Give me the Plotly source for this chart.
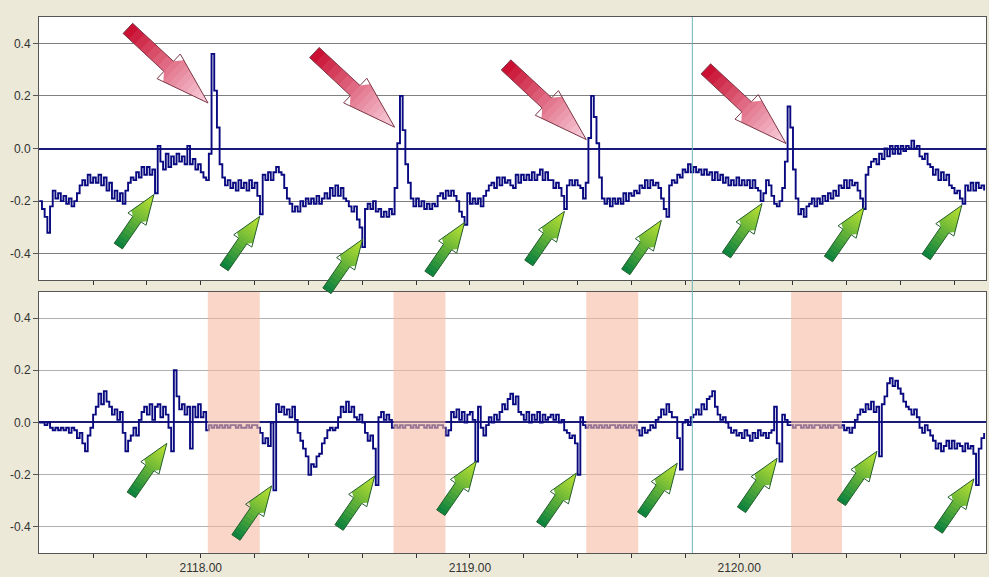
import plotly.graph_objects as go

# ---------------- data ----------------
X_START = 2117.40
X_STEP = 0.01

top_signal = [
    -0.20, -0.23, -0.26, -0.32, -0.22, -0.16, -0.19, -0.17, -0.20, -0.18,
    -0.21, -0.19, -0.22, -0.20, -0.17, -0.14, -0.12, -0.14, -0.10, -0.13,
    -0.11, -0.13, -0.10, -0.14, -0.11, -0.16, -0.13, -0.19, -0.16, -0.20,
    -0.17, -0.21, -0.16, -0.13, -0.11, -0.12, -0.09, -0.11, -0.07, -0.10,
    -0.07, -0.10, -0.08, -0.17, 0.01, -0.05, -0.08, -0.02, -0.07, -0.03,
    -0.06, -0.02, -0.05, -0.03, -0.06, 0.01, -0.06, -0.04, -0.08, -0.06,
    -0.09, -0.11, -0.12, -0.02, 0.36, 0.22, 0.08, -0.06, -0.11, -0.14,
    -0.12, -0.15, -0.13, -0.16, -0.12, -0.15, -0.13, -0.16, -0.12, -0.15,
    -0.13, -0.18, -0.25, -0.10, -0.12, -0.09, -0.12, -0.09, -0.07, -0.09,
    -0.10, -0.15, -0.19, -0.21, -0.24, -0.22, -0.24, -0.20, -0.22, -0.19,
    -0.21, -0.19, -0.21, -0.18, -0.21, -0.19, -0.17, -0.19, -0.15, -0.18,
    -0.14, -0.18, -0.15, -0.19, -0.20, -0.22, -0.24, -0.22, -0.27, -0.30,
    -0.375, -0.23, -0.21, -0.23, -0.20, -0.24, -0.23, -0.26, -0.24, -0.26,
    -0.23, -0.25, -0.15, 0.02, 0.20, 0.07, -0.06, -0.13, -0.19, -0.22,
    -0.19, -0.22, -0.20, -0.23, -0.21, -0.23, -0.21, -0.22, -0.18, -0.17,
    -0.19, -0.16, -0.18, -0.16, -0.18, -0.20, -0.24, -0.26, -0.29, -0.17,
    -0.21, -0.19, -0.21, -0.19, -0.22, -0.18, -0.16, -0.14, -0.13, -0.15,
    -0.11, -0.14, -0.11, -0.13, -0.12, -0.14, -0.15, -0.10, -0.13, -0.10,
    -0.12, -0.10, -0.12, -0.09, -0.12, -0.10, -0.08, -0.12, -0.09, -0.12,
    -0.12, -0.15, -0.13, -0.15, -0.18, -0.23, -0.14, -0.12, -0.14, -0.12,
    -0.14, -0.15, -0.19, -0.13, 0.04, 0.20, 0.12, 0.02, -0.11, -0.19,
    -0.21, -0.19, -0.22, -0.19, -0.21, -0.19, -0.21, -0.17, -0.20, -0.17,
    -0.18, -0.16, -0.17, -0.14, -0.15, -0.12, -0.15, -0.12, -0.14, -0.13,
    -0.15, -0.19, -0.23, -0.26, -0.14, -0.12, -0.13, -0.10, -0.11, -0.08,
    -0.09, -0.06, -0.09, -0.07, -0.09, -0.08, -0.10, -0.08, -0.10, -0.09,
    -0.12, -0.09, -0.12, -0.10, -0.13, -0.11, -0.14, -0.12, -0.14, -0.11,
    -0.14, -0.12, -0.14, -0.12, -0.15, -0.12, -0.15, -0.16, -0.20, -0.17,
    -0.12, -0.14, -0.18, -0.21, -0.22, -0.20, -0.15, -0.05, 0.16, 0.08,
    -0.08, -0.19, -0.25, -0.23, -0.26, -0.22, -0.21, -0.19, -0.22, -0.19,
    -0.21, -0.18, -0.20, -0.17, -0.19, -0.16, -0.18, -0.14, -0.15, -0.12,
    -0.15, -0.12, -0.14, -0.13, -0.16, -0.19, -0.23, -0.10, -0.07, -0.05,
    -0.04, -0.06, -0.02, -0.04, 0.00, -0.03, 0.01, -0.02, 0.01, -0.02,
    0.01, -0.01, 0.01, 0.00, 0.03, 0.00, 0.01, -0.03, -0.04, -0.02,
    -0.06, -0.07, -0.10, -0.08, -0.12, -0.09, -0.12, -0.10, -0.14, -0.15,
    -0.17, -0.16, -0.19, -0.21, -0.14, -0.16, -0.13, -0.16, -0.13, -0.15,
    -0.14, -0.16,
]

bottom_signal = [
    0.00, 0.00, -0.01, 0.00, -0.02, -0.03, -0.02, -0.03, -0.02, -0.03,
    -0.02, -0.04, -0.02, -0.03, -0.06, -0.04, -0.08, -0.11, -0.05, -0.02,
    0.03, 0.06, 0.11, 0.07, 0.12, 0.08, 0.06, 0.03, 0.05, 0.01,
    0.04, -0.04, -0.11, -0.07, -0.05, -0.02, -0.05, 0.01, 0.04, 0.06,
    0.03, 0.07, 0.01, 0.06, 0.07, 0.02, 0.06, 0.03, -0.02, -0.11,
    0.20, 0.10, 0.05, 0.07, 0.03, 0.06, -0.10, 0.06, 0.02, 0.07,
    0.02, 0.04, -0.03, -0.01, -0.02, -0.01, -0.02, -0.01, -0.02, -0.01,
    -0.02, -0.01, -0.01, -0.02, -0.01, -0.02, -0.02, -0.01, -0.02, -0.01,
    -0.01, -0.02, -0.04, -0.08, -0.06, -0.09, 0.00, -0.26, 0.07, 0.04,
    0.06, 0.03, 0.05, 0.02, 0.06, 0.01, -0.04, -0.07, -0.10, -0.13,
    -0.20, -0.16, -0.17, -0.13, -0.12, -0.08, -0.06, -0.03, -0.02, -0.03,
    -0.02, 0.02, 0.06, 0.04, 0.08, 0.04, 0.06, 0.02, 0.01, 0.03,
    0.00, -0.04, -0.07, -0.05, -0.10, -0.24, 0.02, 0.04, 0.01, 0.03,
    0.01, -0.02, -0.01, -0.02, -0.01, -0.02, -0.01, -0.01, -0.02, -0.01,
    -0.02, -0.01, -0.01, -0.02, -0.01, -0.02, -0.01, -0.02, -0.01, -0.01,
    -0.02, -0.05, -0.03, 0.04, 0.02, 0.05, 0.01, 0.04, 0.00, 0.03,
    0.04, 0.01, -0.15, 0.06, -0.02, -0.05, -0.01, 0.02, 0.00, 0.03,
    0.01, 0.04, 0.07, 0.05, 0.09, 0.11, 0.07, 0.10, 0.04, 0.03,
    0.01, 0.04, 0.00, 0.03, 0.01, 0.04, 0.00, 0.03, 0.01, 0.02,
    0.03, 0.01, 0.03, 0.00, 0.01, -0.03, -0.04, -0.06, -0.05, -0.08,
    -0.20, 0.02, -0.01, -0.02, -0.01, -0.02, -0.01, -0.02, -0.01, -0.02,
    -0.01, -0.02, -0.01, -0.01, -0.02, -0.01, -0.02, -0.01, -0.02, -0.01,
    -0.02, -0.01, -0.03, -0.05, -0.02, -0.04, -0.03, -0.01, -0.02, 0.01,
    0.02, 0.05, 0.03, 0.07, 0.04, 0.02, 0.02, -0.06, -0.18, 0.00,
    0.01, -0.01, 0.02, 0.03, 0.05, 0.03, 0.07, 0.05, 0.09, 0.10,
    0.12, 0.06, 0.03, 0.01, 0.02, 0.00, -0.02, -0.04, -0.03, -0.05,
    -0.04, -0.06, -0.03, -0.05, -0.07, -0.04, -0.06, -0.03, -0.05, -0.04,
    -0.06, -0.04, -0.03, 0.06, -0.08, -0.15, 0.03, 0.01, -0.01, -0.01,
    -0.02, -0.01, -0.01, -0.02, -0.01, -0.02, -0.01, -0.02, -0.01, -0.01,
    -0.02, -0.01, -0.02, -0.01, -0.02, -0.01, -0.01, -0.02, -0.01, -0.03,
    -0.02, -0.04, -0.02, 0.01, 0.03, 0.05, 0.04, 0.07, 0.05, 0.08,
    0.04, 0.06, -0.13, 0.07, 0.10, 0.15, 0.17, 0.14, 0.16, 0.13,
    0.11, 0.08, 0.06, 0.05, 0.03, 0.05, 0.02, -0.02, -0.04, -0.01,
    -0.03, -0.05, -0.07, -0.10, -0.08, -0.11, -0.09, -0.07, -0.10, -0.07,
    -0.10, -0.08, -0.09, -0.11, -0.08, -0.10, -0.09, -0.12, -0.24, -0.10,
    -0.06, -0.04,
]

x_values = [round(X_START + X_STEP * i, 2) for i in range(len(top_signal))]

# shaded windows in the lower panel
band_starts = [2118.026, 2118.716, 2119.432, 2120.193]
band_ends = [2118.219, 2118.909, 2119.625, 2120.382]

# cursor line
cursor_x = 2119.826

# red arrows (top panel) - tip positions
red_tip_x = [2118.027, 2118.720, 2119.432, 2120.174]
red_tip_y = [0.173, 0.081, 0.034, 0.019]

# green arrows - tip positions
green_top_x = [2117.826, 2118.219, 2118.601, 2118.980, 2119.351, 2119.711, 2120.085, 2120.464, 2120.827]
green_top_y = [-0.175, -0.258, -0.345, -0.281, -0.239, -0.273, -0.209, -0.224, -0.216]
green_bot_x = [2117.874, 2118.263, 2118.646, 2119.024, 2119.395, 2119.770, 2120.141, 2120.512, 2120.872]
green_bot_y = [-0.080, -0.243, -0.205, -0.148, -0.194, -0.156, -0.137, -0.110, -0.216]

y_ticks = [-0.4, -0.2, 0.0, 0.2, 0.4]
y_tick_labels = ["-0.4", "-0.2", "0.0", "0.2", "0.4"]
x_ticks = [2117.6, 2117.8, 2118.0, 2118.2, 2118.4, 2118.6, 2118.8, 2119.0, 2119.2,
           2119.4, 2119.6, 2119.8, 2120.0, 2120.2, 2120.4, 2120.6, 2120.8]
x_tick_labels = ["", "", "2118.00", "", "", "", "", "2119.00", "", "", "", "", "2120.00",
                 "", "", "", ""]

# ---------------- layout geometry ----------------
W, H = 989, 577
ML, MR, MT, MB = 39, 2, 17, 20
PW, PH = W - ML - MR, H - MT - MB
XR = [2117.399, 2120.917]
YR = [-0.5, 0.5]
TOP_DOM = [(H - MB - 282) / PH, 1.0]
BOT_DOM = [0.0, (H - MB - 294) / PH]

NAVY = "#0a0a80"
FONT = dict(family="Liberation Sans, Arial, sans-serif", size=12, color="#333333")


def to_paper(xv, yv, dom):
    px = (xv - XR[0]) / (XR[1] - XR[0])
    py = dom[0] + (yv - YR[0]) / (YR[1] - YR[0]) * (dom[1] - dom[0])
    return px, py


fig = go.Figure()
fig.add_trace(go.Scatter(x=x_values, y=top_signal, mode="lines", line=dict(color=NAVY, width=1.9, shape="hv"),
                         xaxis="x", yaxis="y", showlegend=False, hoverinfo="skip"))
fig.add_trace(go.Scatter(x=x_values, y=bottom_signal, mode="lines", line=dict(color=NAVY, width=1.9, shape="hv"),
                         xaxis="x2", yaxis="y2", showlegend=False, hoverinfo="skip"))

shapes = []
for b0, b1 in zip(band_starts, band_ends):
    shapes.append(dict(type="rect", xref="x2", yref="y2", x0=b0, x1=b1, y0=YR[0], y1=YR[1],
                       fillcolor="rgb(245,187,162)", opacity=0.6, line=dict(width=0), layer="above"))

cx, _ = to_paper(cursor_x, 0, TOP_DOM)
shapes.append(dict(type="line", xref="paper", yref="paper", x0=cx, x1=cx, y0=0, y1=1,
                   line=dict(color="rgb(110,180,185)", width=1), layer="above"))


def mix(c0, c1, t):
    return "rgb(%d,%d,%d)" % tuple(round(a + (b - a) * t) for a, b in zip(c0, c1))


def block_arrow(tip_paper, direction, L, hs, sw, hw, c0, c1, edge):
    """Block arrow with gradient fill; direction is a pixel vector (screen y down)."""
    tx = tip_paper[0] * PW
    ty = (1 - tip_paper[1]) * PH
    dl = (direction[0] ** 2 + direction[1] ** 2) ** 0.5
    dx, dy = direction[0] / dl, direction[1] / dl
    nx, ny = -dy, dx

    def pt(u, w):
        sx = tx + (u - L) * dx + w * nx
        sy = ty + (u - L) * dy + w * ny
        return "%.5f,%.5f" % (sx / PW, 1 - sy / PH)

    def half(u):
        if u <= hs:
            return sw / 2
        return hw / 2 * max(L - u, 0) / (L - hs)

    out = []
    n1, n2 = 7, 9
    edges = [hs * k / n1 for k in range(n1)] + [hs + (L - hs) * k / n2 for k in range(n2 + 1)]
    for k in range(len(edges) - 1):
        u0, u1 = edges[k], edges[k + 1]
        u1e = min(u1 + 0.7, L)
        t = (u0 + u1) / 2 / L
        if u1 <= hs:
            w0 = w1 = sw / 2
        else:
            w0, w1 = half(u0), half(u1e)
        path = "M %s L %s L %s L %s Z" % (pt(u0, -w0), pt(u1e, -w1), pt(u1e, w1), pt(u0, w0))
        out.append(dict(type="path", xref="paper", yref="paper", path=path,
                        fillcolor=mix(c0, c1, t), line=dict(width=0), layer="above"))
    outline = "M %s L %s L %s L %s L %s L %s L %s Z" % (
        pt(0, -sw / 2), pt(hs, -sw / 2), pt(hs, -hw / 2), pt(L, 0),
        pt(hs, hw / 2), pt(hs, sw / 2), pt(0, sw / 2))
    out.append(dict(type="path", xref="paper", yref="paper", path=outline,
                    line=dict(color=edge, width=1), layer="above"))
    return out


RED0, RED1 = (200, 10, 45), (250, 214, 226)
GRN0, GRN1 = (8, 128, 62), (195, 230, 50)

for x, y in zip(red_tip_x, red_tip_y):
    shapes += block_arrow(to_paper(x, y, TOP_DOM), (79, 74), 110, 56, 14, 34, RED0, RED1, "rgb(125,55,70)")
for x, y in zip(green_top_x, green_top_y):
    shapes += block_arrow(to_paper(x, y, TOP_DOM), (35, -51), 63, 33, 10, 22, GRN0, GRN1, "rgb(35,95,45)")
for x, y in zip(green_bot_x, green_bot_y):
    shapes += block_arrow(to_paper(x, y, BOT_DOM), (35, -51), 63, 33, 10, 22, GRN0, GRN1, "rgb(35,95,45)")

xaxis_common = dict(range=XR, tickmode="array", tickvals=x_ticks, ticks="outside", ticklen=4,
                    tickcolor="#333333", showgrid=False, zeroline=False, showline=True, mirror=True,
                    linecolor="#555555", linewidth=1, tickfont=FONT, fixedrange=True)
yaxis_common = dict(range=YR, tickmode="array", tickvals=y_ticks, ticktext=y_tick_labels,
                    ticks="outside", ticklen=5, tickcolor="#555555", showgrid=True, gridwidth=1,
                    zeroline=True, zerolinecolor="#1a1a78", zerolinewidth=1.5, showline=True, mirror=True,
                    linecolor="#555555", linewidth=1, tickfont=FONT, fixedrange=True)

fig.update_layout(
    width=W, height=H,
    margin=dict(l=ML, r=MR, t=MT, b=MB, pad=0),
    paper_bgcolor="#ECE9D8", plot_bgcolor="white",
    showlegend=False,
    xaxis=dict(xaxis_common, anchor="y", ticktext=[""] * len(x_ticks)),
    yaxis=dict(yaxis_common, domain=TOP_DOM, anchor="x", gridcolor="#808080"),
    xaxis2=dict(xaxis_common, anchor="y2", ticktext=x_tick_labels),
    yaxis2=dict(yaxis_common, domain=BOT_DOM, anchor="x2", gridcolor="#b0b0b0"),
    shapes=shapes,
)

fig.write_html("out.html", config={"displayModeBar": False},
               post_script="document.body.style.margin='0';document.body.style.background='#ECE9D8';")
